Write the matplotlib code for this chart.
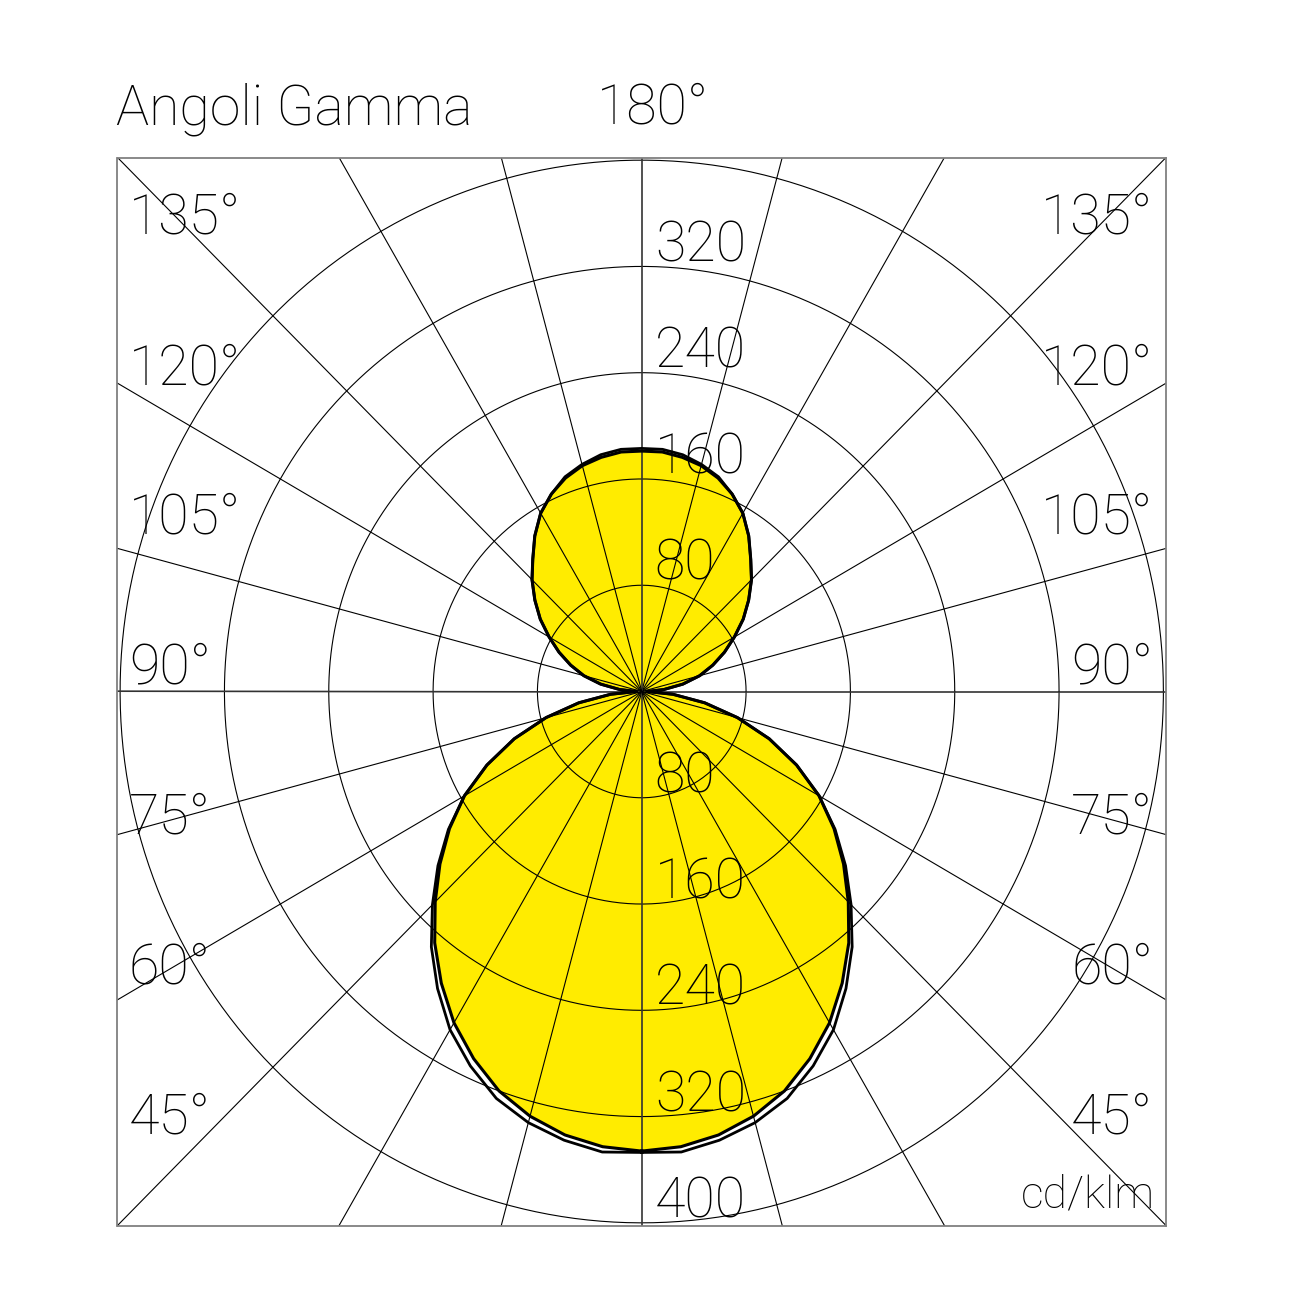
import numpy as np
import matplotlib.pyplot as plt

# photometric data, cd/klm, gamma in degrees (0 = down, 180 = up)
gamma = list(range(0, 181, 5))
plane_a = [346, 344, 339, 331, 320, 305, 288, 268, 247, 224, 202, 180, 157,
           131, 104, 76, 49, 24, 4, 17, 32, 46, 58, 70, 82, 95, 107, 119,
           130, 143, 155, 164, 171, 176, 179, 181, 181]
plane_b = [347, 348, 343, 336, 326, 311, 294, 273, 251, 227, 204, 181, 157,
           131, 104, 76, 49, 24, 4, 17, 32, 46, 58, 70, 82, 95, 107, 119,
           130, 143, 155, 164, 172, 177, 181, 183, 183]

rings = [80, 160, 240, 320, 400]
angle_labels = ["135°", "120°", "105°", "90°", "75°", "60°", "45°"]

W = H = 1302
fig = plt.figure(figsize=(W / 100, H / 100), dpi=100)
ax = fig.add_axes([117.5 / W, 1 - 1225.5 / H, 1048.5 / W, 1068 / H])
lim = 402
ax.set_xlim(-lim, lim)
ax.set_ylim(-lim, lim)
ax.set_xticks([])
ax.set_yticks([])
for s in ax.spines.values():
    s.set_color("#808080")
    s.set_linewidth(1.3)

font = dict(family=["Roboto", "DejaVu Sans"], weight="light", size=40)


def outline(vals):
    g = np.radians(gamma)
    r = np.array(vals, dtype=float)
    xr, yr = r * np.sin(g), -r * np.cos(g)
    x = np.concatenate([xr, -xr[::-1]])
    y = np.concatenate([yr, yr[::-1]])
    return x, y


xa, ya = outline(plane_a)
xb, yb = outline(plane_b)
ax.fill(xa, ya, color="#ffec00", lw=0, zorder=1)

# grid
t = np.linspace(0, 2 * np.pi, 500)
for r in rings:
    ax.plot(r * np.cos(t), r * np.sin(t), color="k", lw=0.8, zorder=2)
for a in range(0, 360, 15):
    ar = np.radians(a)
    main = a % 90 == 0
    ax.plot([0, 900 * np.cos(ar)], [0, 900 * np.sin(ar)],
            color="#333333" if main else "k", lw=1.2 if main else 0.8, zorder=2)

ax.plot(xb, yb, color="k", lw=2.0, zorder=3)
ax.plot(xa, ya, color="k", lw=2.2, zorder=3)

# ring values along the vertical axis
for v in rings[:-1]:
    ax.text(10, v + 4, str(v), va="baseline", ha="left", zorder=5, **font)
for v in rings:
    ax.text(10, -v + 4, str(v), va="baseline", ha="left", zorder=5, **font)


def px(x, y):
    return x / W, 1 - y / H


for i, lab in enumerate(angle_labels):
    yb_ = 234 + 150 * i
    fig.text(*px(129, yb_), lab, ha="left", va="baseline", **font)
    fig.text(*px(1153, yb_), lab, ha="right", va="baseline", **font)

fig.text(*px(116, 124), "Angoli Gamma", ha="left", va="baseline", **font)
fig.text(*px(597, 124), "180°", ha="left", va="baseline", **font)
fig.text(*px(1155, 1207), "cd/klm", ha="right", va="baseline",
         **{**font, "size": 32})

fig.savefig("out.png", dpi=100, facecolor="white")
